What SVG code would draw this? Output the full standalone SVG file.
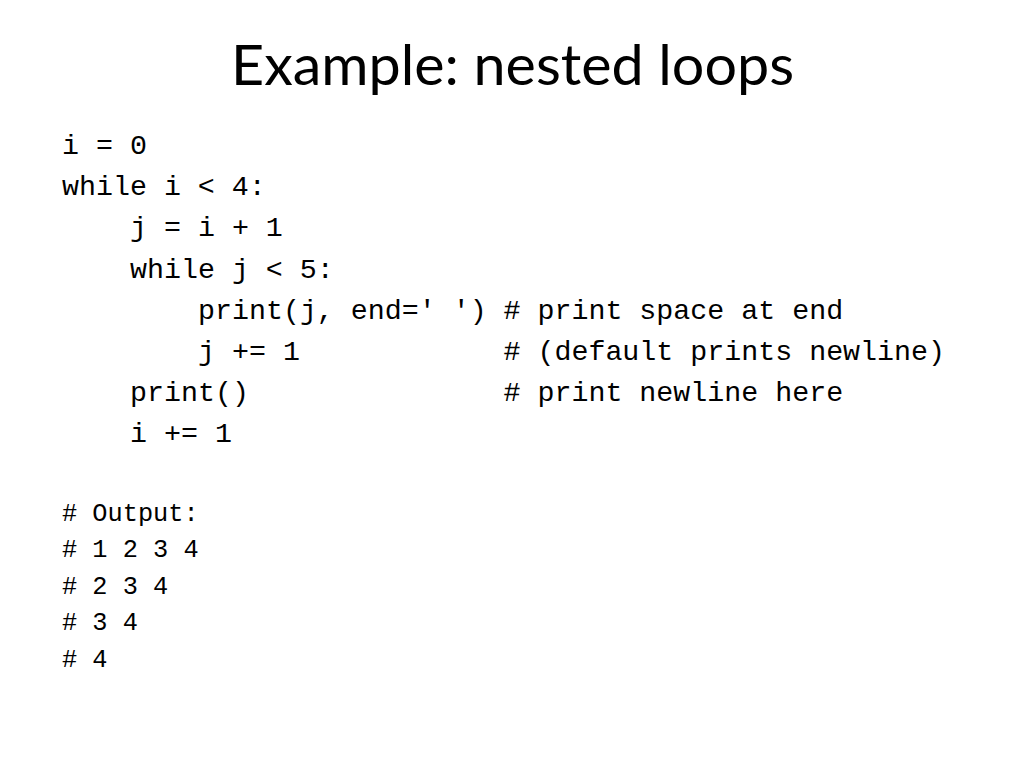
<svg xmlns="http://www.w3.org/2000/svg" width="1024" height="768" viewBox="0 0 1024 768">
<style>
.title{font-family:Lato,"Open Sans","Liberation Sans",sans-serif;font-size:56px;fill:#000}
.code{font-family:"Liberation Mono","Courier New",monospace;font-size:28.3px;fill:#000}
.out{font-family:"Liberation Mono","Courier New",monospace;font-size:25.3px;fill:#000}
</style>
<rect width="1024" height="768" fill="#fff"/>
<g id="title">
<text class="title" x="231" y="85" textLength="563" lengthAdjust="spacingAndGlyphs">Example: nested loops</text>
</g>
<g id="code">
<text class="code" x="62" y="154">i = 0</text>
<text class="code" x="62" y="195">while i &lt; 4:</text>
<text class="code" x="130" y="236">j = i + 1</text>
<text class="code" x="130" y="278">while j &lt; 5:</text>
<text class="code" x="198" y="319" xml:space="preserve">print(j, end=' ')</text>
<text class="code" x="503.5" y="319" xml:space="preserve"># print space at end</text>
<text class="code" x="198" y="360" xml:space="preserve">j += 1</text>
<text class="code" x="503.5" y="360" xml:space="preserve"># (default prints newline)</text>
<text class="code" x="130" y="401">print()</text>
<text class="code" x="503.5" y="401" xml:space="preserve"># print newline here</text>
<text class="code" x="130" y="442">i += 1</text>
</g>
<g id="output">
<text class="out" x="62" y="521" xml:space="preserve"># Output:</text>
<text class="out" x="62" y="557" xml:space="preserve"># 1 2 3 4</text>
<text class="out" x="62" y="594" xml:space="preserve"># 2 3 4</text>
<text class="out" x="62" y="630" xml:space="preserve"># 3 4</text>
<text class="out" x="62" y="667" xml:space="preserve"># 4</text>
</g>
</svg>
